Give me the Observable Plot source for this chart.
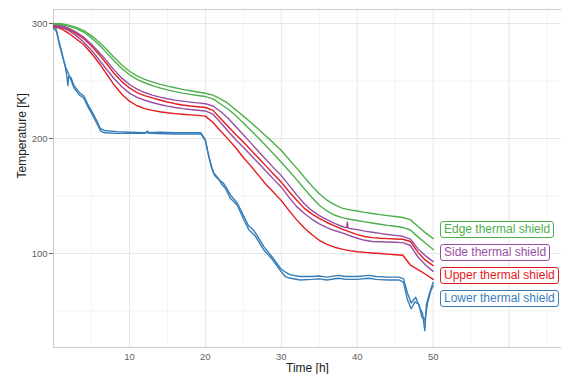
<!DOCTYPE html>
<html>
<head>
<meta charset="utf-8">
<script src="https://cdn.jsdelivr.net/npm/d3@7"></script>
<script src="https://cdn.jsdelivr.net/npm/@observablehq/plot@0.6"></script>
<style>
  body { margin: 0; background: white; }
  #wrap { position: relative; width: 561px; height: 374px; overflow: hidden; }
  .leg { position: absolute; left: 440px; font: 12px "Liberation Sans", Arial, sans-serif;
         border: 1px solid; border-radius: 3px; padding: 0 3px; line-height: 15px; white-space: nowrap; background: white; }
</style>
</head>
<body>
<div id="wrap"></div>
<script>
// ---- data ----
const seriesNames = ["Edge thermal shield", "Side thermal shield", "Upper thermal shield", "Lower thermal shield"];
const seriesColors = ["#4daf4a", "#984ea3", "#e41a1c", "#377eb8"];

const hours = [0,1,2,3,4,5,6,7,8,9,10,11,12,13,14,15,16,17,18,19,20,21,22,23,24,25,26,27,28,29,30,31,32,33,34,35,36,37,38,39,40,41,42,43,44,45,46,47,48,49,50];

const edgeA = [300,299.8,298.6,296.6,293.8,289.5,284,277.5,270.5,264,258.5,254.5,251.5,249.3,247.3,245.6,244.2,242.8,241.6,240.5,239.4,237.8,234.5,230.5,225,219.5,214,208,202,196,189.6,182,174.5,166.5,159,152,146.5,142.5,139.5,138,137,135.8,134.8,133.8,133,132.2,131.3,129.5,123.5,118,113];
const edgeB = [299.5,299.2,297.8,295.5,292.4,287.5,281.5,274.5,267.5,261,255.5,251.5,248.5,246,244,242.3,240.8,239.5,238.4,237.4,236.5,234.5,230,225.5,220,213.5,207,200.5,193.5,186.5,179.4,172,164.5,156.5,149,142,137,133.5,131.2,129.8,128.7,127.5,126.5,125.5,124.5,123.7,122.7,120.5,114.5,109,103.5];

const sideATimes = [0,1,2,3,4,5,6,7,8,9,10,11,12,13,14,15,16,17,18,19,20,21,22,23,24,25,26,27,28,29,30,31,32,33,34,35,36,37,38,38.6,38.7,38.8,39,40,41,42,43,44,45,46,47,48,49,50];
const sideA = [299,298.3,296,292.5,288,282,275,267.5,259.5,252.5,247,243,240,237.8,236,234.6,233.4,232.5,231.7,231,230.3,228.3,223.5,217.7,210.5,203.3,196,188.8,181.5,174.5,167.8,159.5,151.2,143.5,137.5,133,129.5,126.3,123.5,122.3,127.5,122.2,121.8,120.8,119.5,118.5,117.5,116.6,115.8,115,112.5,104,98,93];
const sideB = [298,296.8,293.8,289.5,283.8,276.8,268.5,260,252,245,239.5,235.8,233.3,231.3,229.6,228.2,227,226,225.2,224.6,224,221.2,214,206.3,199,192.5,185.5,178.5,171.5,164.5,157.7,149,141,135,130,125.8,122.5,120,118,115.5,113.3,111.5,110.5,110.2,110,109.8,109.5,107,97,90,84.5];

const upperA = [298.5,297.5,295,291.3,286.7,280.5,273,265,256.5,249.5,244,240,237.3,235.3,233.5,231.8,230.3,229.2,228.3,227.6,227,224.5,217.5,210.5,203.5,197,190,183,176,169,162,154,146.5,139.5,134.5,130.5,127,124,121.3,118.8,116.5,114.8,113.8,113.3,113,112.7,112.4,110.5,101,94,89.5];
const upperB = [297.5,295.5,291.5,286.5,281.5,274,265.5,256,246.5,238.5,232.5,228.5,226,224.5,223.3,222.4,221.7,221.1,220.6,220.1,219.5,214,206.5,199.5,192,183.5,176,168,160,153,146,137.5,129.5,122.5,116.5,111.5,108,105.5,103.8,102.5,101.5,101,100.5,100,99.5,99,98.5,90,86,82,77.5];

const lowerATimes = [0,0.3,0.7,1.2,1.6,1.8,1.9,2.0,2.3,2.7,3.4,4.0,4.5,5.1,5.8,6.2,6.7,8.4,10,12,14,16,17,19.4,20,20.3,20.7,21.1,21.5,22,22.4,22.7,23.3,24.2,25.1,25.7,26.1,26.6,27.7,28.8,29.9,30.5,31.2,32.5,34,35,36,37.5,38.5,40,41.5,42.5,44,45.5,46.1,46.6,47.1,47.7,48.3,48.6,48.9,49.1,49.5,50];
const lowerA = [297,296,285,272,261,252,246,254,253,246,240,237,230,223,214,208.5,207,206,205.5,205,205.5,205,205,205,199,189,178,170,167,163,161,158,151,144,132,124,122,118,106,97,87,84,81.5,80,80,80.5,79.5,81,80,80,81,80,79.5,79.5,78,66,57,62,52,48,33,55,65,75];
const lowerBTimes = [0,0.4,0.8,1.2,1.6,2.0,2.3,2.7,3.4,4.0,4.5,5.1,5.8,6.2,6.7,8.4,10,12,12.4,12.6,16,19.4,20,20.4,20.8,21.2,21.8,22.2,22.7,23.3,24.2,25.1,25.7,26.6,27.7,28.8,29.9,30.5,31.2,32.5,34,35,36,37.5,38.5,40,41.5,42.5,44,45.5,46.1,46.6,47.1,47.6,48.1,48.5,48.9,49.3,49.7,50];
const lowerB = [296,293,281,271,262,256,251,244,238,235,228,221,212,206.5,205,204.5,204.5,204.5,206.5,204.5,204,204,198,186,175,168,164,160,156,148,142,129,121,115,103,95,85,80,78.5,77,77.5,78,77,78.5,77.5,77.5,78.5,77.5,77,77,75,60,52,58,56,45,42,58,68,72];

// ---- table for the library ----
function rows(name, id, ts, vs) { return ts.map((t, i) => ({series: name, id, t, v: vs[i]})); }
const data = [
  ...rows(seriesNames[3], "L1", lowerATimes, lowerA),
  ...rows(seriesNames[3], "L2", lowerBTimes, lowerB),
  ...rows(seriesNames[2], "U1", hours, upperA),
  ...rows(seriesNames[2], "U2", hours, upperB),
  ...rows(seriesNames[1], "S1", sideATimes, sideA),
  ...rows(seriesNames[1], "S2", hours, sideB),
  ...rows(seriesNames[0], "E1", hours, edgeA),
  ...rows(seriesNames[0], "E2", hours, edgeB)
];

const xMajor = [10,20,30,40,50,60];
const xMinor = [5,15,25,35,45,55,65];
const yMajor = [100,200,300];
const yMinor = [50,150,250];
const xTicks = [10,20,30,40,50];

const chart = Plot.plot({
  width: 561, height: 374,
  marginLeft: 53, marginTop: 9, marginBottom: 27, marginRight: 0,
  style: {fontFamily: '"Liberation Sans", Arial, sans-serif', fontSize: "9.5px", color: "#5f5f5f", background: "white", overflow: "visible"},
  x: {domain: [0, 66.9], ticks: xTicks, tickSize: 0, tickPadding: 6, label: null},
  y: {domain: [18.3, 312.2], ticks: yMajor, tickSize: 4, tickPadding: 2, label: null},
  color: {domain: seriesNames, range: seriesColors},
  marks: [
    Plot.ruleX(xMinor, {stroke: "#f3f3f3"}),
    Plot.ruleY(yMinor, {stroke: "#f3f3f3"}),
    Plot.ruleX(xMajor, {stroke: "#e6e6e6"}),
    Plot.ruleY(yMajor, {stroke: "#e6e6e6"}),
    Plot.frame({stroke: "#cccccc"}),
    Plot.line(data, {x: "t", y: "v", z: "id", stroke: "series", strokeWidth: 1.4}),
    Plot.text(["Time [h]"], {frameAnchor: "bottom", text: d => d, dy: 16, lineAnchor: "top", fontSize: 12, fill: "#222"}),
    Plot.text(["Temperature [K]"], {frameAnchor: "left", text: d => d, rotate: -90, dx: -31, fontSize: 12, fill: "#222"})
  ]
});

const wrap = document.getElementById("wrap");
wrap.appendChild(chart);

const legTops = [221, 244, 267, 290];
seriesNames.forEach((name, i) => {
  const d = document.createElement("div");
  d.className = "leg";
  d.textContent = name;
  d.style.top = legTops[i] + "px";
  d.style.color = seriesColors[i];
  d.style.borderColor = seriesColors[i];
  wrap.appendChild(d);
});
</script>
</body>
</html>
